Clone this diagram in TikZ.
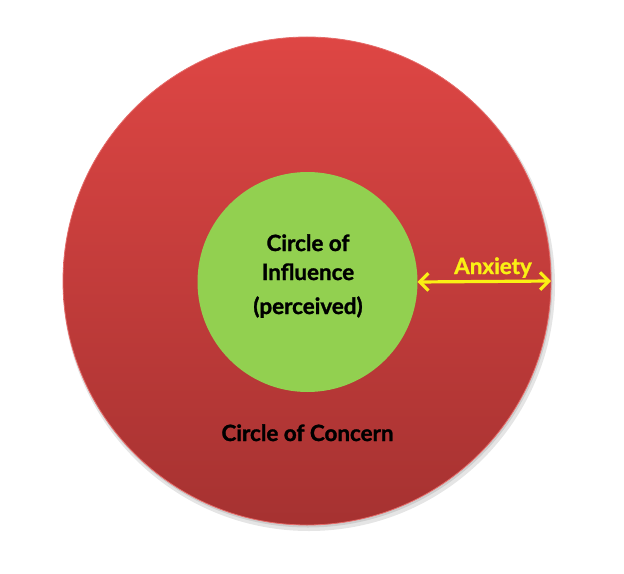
\documentclass[tikz,border=0pt]{standalone}
\usepackage{fontspec}
\setmainfont{Lato}
\newfontfamily\heavyfont{Lato Bold}[FakeBold=1.3]
\usetikzlibrary{arrows.meta,shadows}
\definecolor{redtop}{RGB}{222,70,68}
\definecolor{redbot}{RGB}{166,50,49}
\definecolor{infl}{RGB}{146,208,80}
\definecolor{anx}{RGB}{250,240,20}
\tikzset{
  lbl/.style={font=\heavyfont\fontsize{16.8}{20}\selectfont, text=black, align=center, inner sep=0pt},
  arr/.style={anx, line width=2.4pt, {Straight Barb[length=6.5pt,width=13pt]}-{Straight Barb[length=6.5pt,width=13pt]}}
}
\begin{document}
\begin{tikzpicture}[x=0.75pt,y=-0.75pt]
\useasboundingbox (0,0) rectangle (624,574);
% soft shadow
\fill[black,opacity=0.10] (309,285) circle (246);
\fill[black,opacity=0.10] (308,283) circle (244.5);
\node[circle, inner sep=0pt, outer sep=0pt, minimum size=366pt, top color=redtop, bottom color=redbot, draw=redtop!80!white, line width=0.6pt] (concern) at (307,281) {};
\node[circle, inner sep=0pt, outer sep=0pt, minimum size=165pt, fill=infl] (influence) at (307.5,282) {};
\node[lbl, anchor=base] (t1) at (308,251) {Circle of};
\node[lbl, anchor=base] (t2) at (308,280) {Influence};
\node[lbl, anchor=base] (t3) at (308,314) {(perceived)};
\node[lbl, anchor=base] (t4) at (307.5,441) {Circle of Concern};
\node[lbl, anchor=base, text=anx] (anxiety) at (493,274) {Anxiety};
\draw[arr] (influence.east) -- (concern.east);
\end{tikzpicture}
\end{document}
